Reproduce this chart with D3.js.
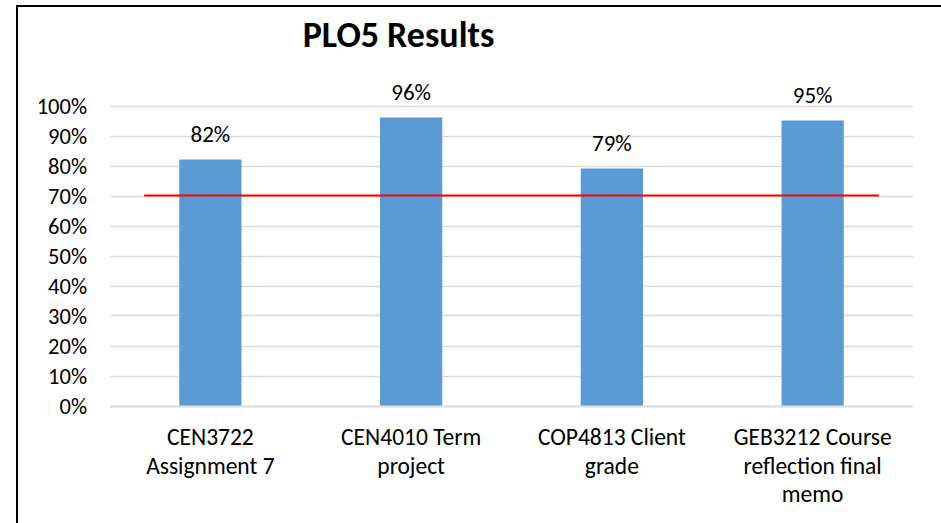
<!DOCTYPE html>
<html>
<head>
<meta charset="utf-8">
<script src="https://cdn.jsdelivr.net/npm/d3@7"></script>
<style>
  html, body { margin: 0; padding: 0; background: #fff; }
  svg { display: block; }
  text { font-family: Carlito, Lato, "Liberation Sans", sans-serif; fill: #000; }
</style>
</head>
<body>
<svg id="chart" width="941" height="523"></svg>
<script>
const title = "PLO5 Results";
const categories = [
  ["CEN3722", "Assignment 7"],
  ["CEN4010 Term", "project"],
  ["COP4813 Client", "grade"],
  ["GEB3212 Course", "reflection final", "memo"]
];
const values = [0.82, 0.96, 0.79, 0.95];
const target = 0.70;
const yTicks = [0, 0.1, 0.2, 0.3, 0.4, 0.5, 0.6, 0.7, 0.8, 0.9, 1.0];

const svg = d3.select("#chart");

// chart border
svg.append("rect")
  .attr("x", 17).attr("y", 6).attr("width", 940).attr("height", 530)
  .attr("fill", "none").attr("stroke", "#000").attr("stroke-width", 2);

const plot = { left: 110, right: 913, top: 105.5, bottom: 405.5 };

const x = d3.scaleBand()
  .domain(d3.range(categories.length))
  .range([plot.left, plot.right])
  .paddingInner(0.69).paddingOuter(0.345);

const y = d3.scaleLinear().domain([0, 1]).range([plot.bottom, plot.top]);

// gridlines
svg.append("g").selectAll("line").data(yTicks).join("line")
  .attr("x1", plot.left).attr("x2", plot.right)
  .attr("y1", d => Math.round(y(d)) + 0.5).attr("y2", d => Math.round(y(d)) + 0.5)
  .attr("stroke", "#D9D9D9").attr("stroke-width", d => d === 0 ? 2 : 1.5);

// y axis labels
const yAxis = d3.axisLeft(y).tickValues(yTicks).tickFormat(d3.format(".0%")).tickSize(0).tickPadding(0);
const gy = svg.append("g").attr("transform", `translate(87,0)`).call(yAxis);
gy.select(".domain").remove();
gy.selectAll("text").attr("font-size", 22.5).attr("font-family", "Carlito, Lato, sans-serif").attr("fill", "#000").attr("dy", "0.36em");

// bars
svg.append("g").selectAll("rect").data(values).join("rect")
  .attr("x", (d, i) => x(i)).attr("width", x.bandwidth())
  .attr("y", d => y(d)).attr("height", d => y(0) - y(d))
  .attr("fill", "#5B9BD5");

// value labels
svg.append("g").selectAll("text").data(values).join("text")
  .attr("x", (d, i) => x(i) + x.bandwidth() / 2)
  .attr("y", d => y(d) - 17.5)
  .attr("text-anchor", "middle").attr("font-size", 23)
  .text(d => d3.format(".0%")(d));

// target line
const step = x.step();
const c0 = x(0) + x.bandwidth() / 2, c3 = x(categories.length - 1) + x.bandwidth() / 2;
svg.append("line")
  .attr("x1", c0 - step * 0.33).attr("x2", c3 + step * 0.33)
  .attr("y1", y(target)).attr("y2", y(target))
  .attr("stroke", "#FF0000").attr("stroke-width", 2);

// category labels
const cg = svg.append("g").selectAll("text").data(categories).join("text")
  .attr("text-anchor", "middle").attr("font-size", 23.5);
cg.each(function(lines, i) {
  const t = d3.select(this);
  lines.forEach((ln, j) => {
    t.append("tspan").attr("x", x(i) + x.bandwidth() / 2).attr("y", 445 + j * 28.5).text(ln);
  });
});

// title
svg.append("text").attr("x", 398.5).attr("y", 47).attr("text-anchor", "middle")
  .attr("font-size", 36).attr("font-weight", "bold").text(title);
</script>
</body>
</html>
